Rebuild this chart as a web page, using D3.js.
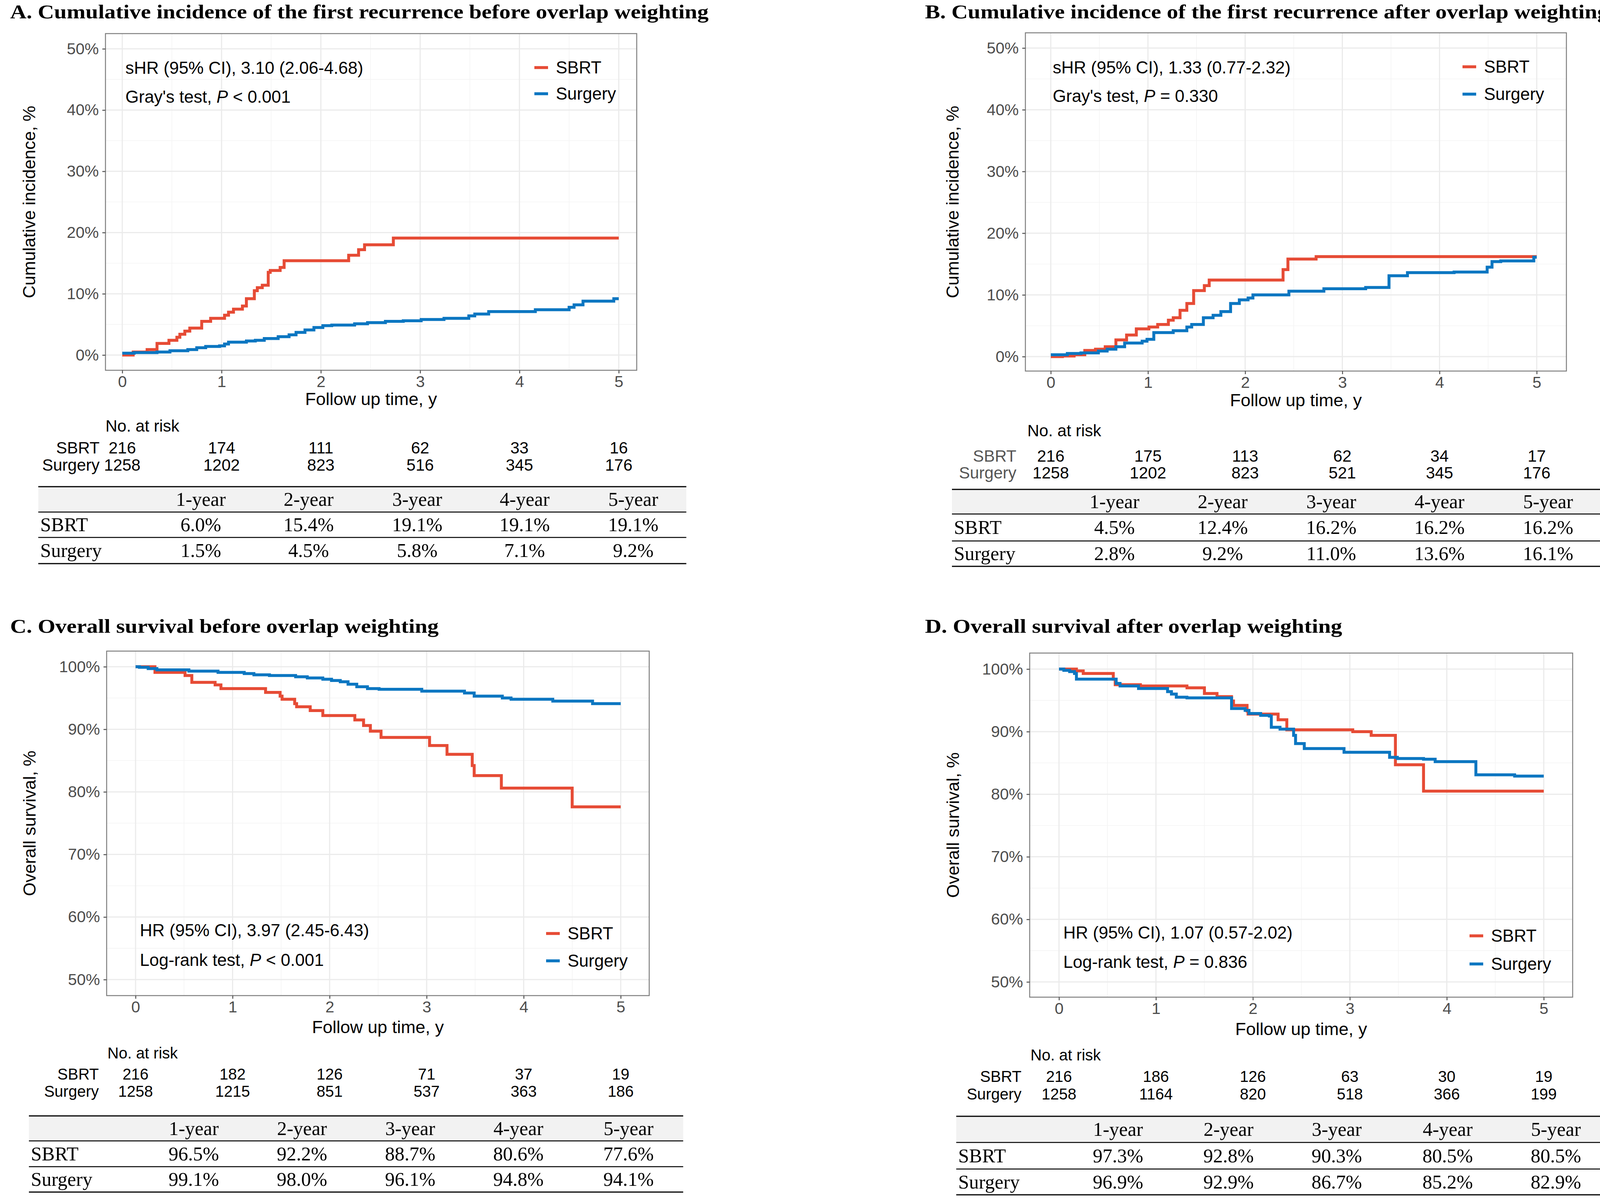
<!DOCTYPE html>
<html>
<head>
<meta charset="utf-8">
<script src="https://cdn.jsdelivr.net/npm/d3@7"></script>
<style>
  body { margin: 0; background: #fff; overflow: hidden; }
  svg { display: block; }
</style>
</head>
<body>
<div id="chart"></div>
<script>
// values: [time in years, percent]
var years = [0, 1, 2, 3, 4, 5];
var groups = ["SBRT", "Surgery"];
var yearCols = ["1-year", "2-year", "3-year", "4-year", "5-year"];

var aSbrt = [[0,0],[0.11,0.5],[0.25,0.9],[0.35,1.9],[0.47,2.4],[0.55,2.9],[0.58,3.4],[0.63,3.9],[0.68,4.4],
  [0.80,5.5],[0.89,6.0],[1.03,6.5],[1.07,7.0],[1.12,7.5],[1.21,8.0],[1.25,9.2],[1.33,10.5],[1.36,11.0],
  [1.41,11.4],[1.47,13.5],[1.49,13.8],[1.59,14.3],[1.63,15.4],[2.28,16.3],[2.38,17.2],[2.44,18.0],[2.73,19.1],[5.0,19.1]];
var aSurgery = [[0,0.3],[0.12,0.4],[0.35,0.5],[0.48,0.7],[0.66,0.9],[0.75,1.2],[0.84,1.4],[0.98,1.5],[1.03,1.8],
  [1.07,2.1],[1.25,2.3],[1.34,2.4],[1.43,2.7],[1.57,3.0],[1.68,3.3],[1.75,3.7],[1.84,4.1],[1.93,4.5],[2.02,4.8],
  [2.11,4.9],[2.34,5.1],[2.47,5.3],[2.65,5.5],[2.83,5.6],[3.01,5.8],[3.24,6.0],[3.49,6.4],[3.55,6.7],[3.69,7.1],
  [4.16,7.4],[4.50,7.8],[4.55,8.2],[4.64,8.8],[4.95,9.2],[5.0,9.2]];

var bSbrt = [[0,0],[0.12,0.1],[0.24,0.3],[0.35,1.0],[0.46,1.2],[0.56,1.6],[0.67,2.7],[0.78,3.5],[0.88,4.5],
  [1.01,4.8],[1.10,5.2],[1.21,5.9],[1.26,6.3],[1.33,7.5],[1.40,8.6],[1.47,10.7],[1.58,11.5],[1.63,12.4],
  [2.39,14.1],[2.44,15.8],[2.73,16.2],[5.0,16.2]];
var bSurgery = [[0,0.3],[0.17,0.5],[0.31,0.6],[0.49,0.9],[0.58,1.2],[0.67,1.6],[0.76,2.2],[0.94,2.5],[0.99,2.8],
  [1.06,3.9],[1.26,4.2],[1.40,4.8],[1.45,5.2],[1.57,6.3],[1.67,6.7],[1.75,7.3],[1.85,8.6],[1.94,9.2],[2.03,9.5],
  [2.08,10.0],[2.45,10.6],[2.81,11.0],[3.24,11.2],[3.48,13.1],[3.67,13.6],[4.15,13.7],[4.49,14.5],[4.54,15.4],
  [4.63,15.5],[4.97,16.1],[5.0,16.1]];

var cSbrt = [[0,100],[0.20,99.1],[0.51,98.6],[0.58,97.5],[0.82,97.1],[0.88,96.5],[1.34,95.9],[1.49,95.3],
  [1.51,94.8],[1.64,94.1],[1.66,93.6],[1.80,93.0],[1.93,92.2],[2.26,91.5],[2.35,90.6],[2.42,89.7],[2.53,88.7],
  [3.03,87.4],[3.21,86.0],[3.47,84.2],[3.49,82.6],[3.77,80.6],[4.50,77.6],[5.0,77.6]];
var cSurgery = [[0,100],[0.04,99.9],[0.13,99.7],[0.22,99.5],[0.55,99.3],[0.85,99.1],[1.12,98.9],[1.22,98.7],
  [1.38,98.6],[1.65,98.4],[1.77,98.2],[1.93,98.0],[2.02,97.8],[2.11,97.6],[2.19,97.2],[2.28,96.8],[2.39,96.5],
  [2.51,96.4],[2.95,96.1],[3.39,95.8],[3.49,95.3],[3.78,95.0],[3.87,94.8],[4.30,94.5],[4.71,94.1],[5.0,94.1]];

var dSbrt = [[0,100],[0.18,99.7],[0.25,99.3],[0.56,98.4],[0.58,97.5],[0.84,97.3],[1.32,97.0],[1.50,96.1],
  [1.63,95.6],[1.78,94.9],[1.80,94.2],[1.94,93.3],[1.95,92.8],[2.26,91.9],[2.35,90.3],[3.03,90.0],[3.22,89.4],
  [3.47,84.7],[3.76,80.5],[5.0,80.5]];
var dSurgery = [[0,100],[0.05,99.8],[0.11,99.6],[0.16,99.3],[0.18,98.4],[0.59,97.7],[0.63,97.3],[0.82,96.9],
  [1.12,96.4],[1.16,96.0],[1.21,95.5],[1.32,95.4],[1.78,93.7],[1.92,93.4],[1.96,92.9],[2.08,92.6],[2.17,92.5],
  [2.19,90.7],[2.28,90.4],[2.42,89.4],[2.44,88.1],[2.53,87.3],[2.94,86.7],[3.41,85.9],[3.49,85.7],[3.76,85.6],
  [3.88,85.2],[4.30,83.1],[4.70,82.9],[5.0,82.9]];

var aRiskSbrt = [216, 174, 111, 62, 33, 16];
var aRiskSurgery = [1258, 1202, 823, 516, 345, 176];
var bRiskSbrt = [216, 175, 113, 62, 34, 17];
var bRiskSurgery = [1258, 1202, 823, 521, 345, 176];
var cRiskSbrt = [216, 182, 126, 71, 37, 19];
var cRiskSurgery = [1258, 1215, 851, 537, 363, 186];
var dRiskSbrt = [216, 186, 126, 63, 30, 19];
var dRiskSurgery = [1258, 1164, 820, 518, 366, 199];

var aRateSbrt = [6.0, 15.4, 19.1, 19.1, 19.1];
var aRateSurgery = [1.5, 4.5, 5.8, 7.1, 9.2];
var bRateSbrt = [4.5, 12.4, 16.2, 16.2, 16.2];
var bRateSurgery = [2.8, 9.2, 11.0, 13.6, 16.1];
var cRateSbrt = [96.5, 92.2, 88.7, 80.6, 77.6];
var cRateSurgery = [99.1, 98.0, 96.1, 94.8, 94.1];
var dRateSbrt = [97.3, 92.8, 90.3, 80.5, 80.5];
var dRateSurgery = [96.9, 92.9, 86.7, 85.2, 82.9];

var ciTicks = [0, 10, 20, 30, 40, 50];
var osTicks = [50, 60, 70, 80, 90, 100];

var colors = ["#E64B35", "#0B76C1"];
var sans = "'Liberation Sans', Arial, Helvetica, sans-serif";
var serif = "'Liberation Serif', 'Times New Roman', serif";

var width = 4135, height = 3080;

var panels = [
  { title: "A. Cumulative incidence of the first recurrence before overlap weighting",
    titleX: 26, titleY: 47, titleW: 1788,
    box: [270, 86, 1630, 948], xPx: [313, 1584], yPx: [909, 125], ticks: ciTicks,
    yTitle: "Cumulative incidence, %", yTitleX: 74, xTitleY: 1037,
    series: [aSbrt, aSurgery],
    stat1: "sHR (95% CI), 3.10 (2.06-4.68)", stat2: ["Gray's test, ", "P", " < 0.001"],
    statX: 321, statY: [174, 248], legX: 1368, legY: [173, 240],
    riskX: 270, riskTitleY: 1105, riskY: [1161, 1205], riskLabelX: 255, riskLabelColor: "#000", riskFont: 42,
    risk: [aRiskSbrt, aRiskSurgery],
    tbl: { x0: 98, x1: 1757, ys: [1246, 1311, 1376, 1443], cols: [514, 790, 1068, 1343, 1621], labelX: 103 },
    rates: [aRateSbrt, aRateSurgery] },
  { title: "B. Cumulative incidence of the first recurrence after overlap weighting",
    titleX: 2368, titleY: 47, titleW: 1750,
    box: [2625, 84, 4010, 950], xPx: [2690, 3934], yPx: [913, 123], ticks: ciTicks,
    yTitle: "Cumulative incidence, %", yTitleX: 2438, xTitleY: 1040,
    series: [bSbrt, bSurgery],
    stat1: "sHR (95% CI), 1.33 (0.77-2.32)", stat2: ["Gray's test, ", "P", " = 0.330"],
    statX: 2695, statY: [173, 246], legX: 3744, legY: [171, 241],
    riskX: 2630, riskTitleY: 1117, riskY: [1182, 1225], riskLabelX: 2602, riskLabelColor: "#555", riskFont: 42,
    risk: [bRiskSbrt, bRiskSurgery],
    tbl: { x0: 2437, x1: 4101, ys: [1253, 1316, 1385, 1450], cols: [2853, 3130, 3408, 3685, 3963], labelX: 2442 },
    rates: [bRateSbrt, bRateSurgery] },
  { title: "C. Overall survival before overlap weighting",
    titleX: 26, titleY: 1620, titleW: 1097,
    box: [273, 1667, 1662, 2549], xPx: [347, 1589], yPx: [2508, 1707], ticks: osTicks,
    yTitle: "Overall survival, %", yTitleX: 75, xTitleY: 2645,
    series: [cSbrt, cSurgery],
    stat1: "HR (95% CI), 3.97 (2.45-6.43)", stat2: ["Log-rank test, ", "P", " < 0.001"],
    statX: 358, statY: [2382, 2458], legX: 1398, legY: [2390, 2460],
    riskX: 275, riskTitleY: 2710, riskY: [2764, 2808], riskLabelX: 253, riskLabelColor: "#000", riskFont: 40,
    risk: [cRiskSbrt, cRiskSurgery],
    tbl: { x0: 74, x1: 1749, ys: [2857, 2921, 2987, 3052], cols: [496, 773, 1050, 1327, 1609], labelX: 79 },
    rates: [cRateSbrt, cRateSurgery] },
  { title: "D. Overall survival after overlap weighting",
    titleX: 2368, titleY: 1620, titleW: 1068,
    box: [2636, 1672, 4026, 2553], xPx: [2711, 3952], yPx: [2514, 1713], ticks: osTicks,
    yTitle: "Overall survival, %", yTitleX: 2439, xTitleY: 2650,
    series: [dSbrt, dSurgery],
    stat1: "HR (95% CI), 1.07 (0.57-2.02)", stat2: ["Log-rank test, ", "P", " = 0.836"],
    statX: 2722, statY: [2388, 2463], legX: 3762, legY: [2396, 2468],
    riskX: 2638, riskTitleY: 2715, riskY: [2770, 2815], riskLabelX: 2615, riskLabelColor: "#000", riskFont: 40,
    risk: [dRiskSbrt, dRiskSurgery],
    tbl: { x0: 2448, x1: 4120, ys: [2858, 2925, 2993, 3059], cols: [2862, 3145, 3422, 3706, 3983], labelX: 2453 },
    rates: [dRateSbrt, dRateSurgery] }
];

var svg = d3.select("#chart").append("svg")
  .attr("width", width)
  .attr("height", height);

svg.append("rect").attr("width", width).attr("height", height).attr("fill", "#fff");

panels.forEach(drawPanel);

function drawPanel(p) {
  var g = svg.append("g");
  var left = p.box[0], top = p.box[1], right = p.box[2], bottom = p.box[3];

  var x = d3.scaleLinear().domain([0, 5]).range(p.xPx);
  var y = d3.scaleLinear().domain([p.ticks[0], p.ticks[p.ticks.length - 1]]).range(p.yPx);

  // title
  g.append("text")
    .attr("x", p.titleX).attr("y", p.titleY)
    .attr("font-family", serif).attr("font-weight", "bold").attr("font-size", 51)
    .attr("textLength", p.titleW).attr("lengthAdjust", "spacingAndGlyphs")
    .text(p.title);

  // panel background + grid
  g.append("rect").attr("x", left).attr("y", top)
    .attr("width", right - left).attr("height", bottom - top).attr("fill", "#fff");

  var step = p.ticks[1] - p.ticks[0];
  var yMinor = p.ticks.slice(1).map(function (d) { return d - step / 2; });
  var xMinor = years.slice(1).map(function (d) { return d - 0.5; });

  g.selectAll(".ymin").data(yMinor).enter().append("line")
    .attr("x1", left).attr("x2", right)
    .attr("y1", function (d) { return y(d); }).attr("y2", function (d) { return y(d); })
    .attr("stroke", "#F4F4F4").attr("stroke-width", 1.6);
  g.selectAll(".xmin").data(xMinor).enter().append("line")
    .attr("y1", top).attr("y2", bottom)
    .attr("x1", function (d) { return x(d); }).attr("x2", function (d) { return x(d); })
    .attr("stroke", "#F4F4F4").attr("stroke-width", 1.6);
  g.selectAll(".ymaj").data(p.ticks).enter().append("line")
    .attr("x1", left).attr("x2", right)
    .attr("y1", function (d) { return y(d); }).attr("y2", function (d) { return y(d); })
    .attr("stroke", "#EBEBEB").attr("stroke-width", 3);
  g.selectAll(".xmaj").data(years).enter().append("line")
    .attr("y1", top).attr("y2", bottom)
    .attr("x1", function (d) { return x(d); }).attr("x2", function (d) { return x(d); })
    .attr("stroke", "#EBEBEB").attr("stroke-width", 3);

  // curves
  var line = d3.line()
    .x(function (d) { return x(d[0]); })
    .y(function (d) { return y(d[1]); })
    .curve(d3.curveStepAfter);

  p.series.forEach(function (s, i) {
    g.append("path").datum(s)
      .attr("d", line)
      .attr("fill", "none")
      .attr("stroke", colors[i])
      .attr("stroke-width", 7.5)
      .attr("stroke-linejoin", "miter");
  });

  // border
  g.append("rect").attr("x", left).attr("y", top)
    .attr("width", right - left).attr("height", bottom - top)
    .attr("fill", "none").attr("stroke", "#7F7F7F").attr("stroke-width", 2.5);

  // axes
  var yAxis = g.append("g")
    .attr("transform", "translate(" + left + ",0)")
    .call(d3.axisLeft(y).tickValues(p.ticks).tickSize(8).tickPadding(9)
      .tickFormat(function (d) { return d + "%"; }));
  var xAxis = g.append("g")
    .attr("transform", "translate(0," + bottom + ")")
    .call(d3.axisBottom(x).tickValues(years).tickSize(8).tickPadding(6)
      .tickFormat(d3.format("d")));

  [yAxis, xAxis].forEach(function (ax) {
    ax.select(".domain").remove();
    ax.selectAll(".tick line").attr("stroke", "#555").attr("stroke-width", 2.5);
    ax.selectAll(".tick text")
      .attr("fill", "#4D4D4D")
      .attr("font-family", sans)
      .attr("font-size", 41);
  });

  // axis titles
  g.append("text")
    .attr("x", (left + right) / 2).attr("y", p.xTitleY)
    .attr("text-anchor", "middle")
    .attr("font-family", sans).attr("font-size", 45)
    .text("Follow up time, y");
  g.append("text")
    .attr("transform", "translate(" + p.yTitleX + "," + ((top + bottom) / 2) + ") rotate(-90)")
    .attr("text-anchor", "middle").attr("dy", "0.35em")
    .attr("font-family", sans).attr("font-size", 45)
    .text(p.yTitle);

  // statistics
  g.append("text")
    .attr("x", p.statX).attr("y", p.statY[0]).attr("dy", "0.35em")
    .attr("font-family", sans).attr("font-size", 44)
    .text(p.stat1);
  var t2 = g.append("text")
    .attr("x", p.statX).attr("y", p.statY[1]).attr("dy", "0.35em")
    .attr("font-family", sans).attr("font-size", 44);
  p.stat2.forEach(function (part, i) {
    t2.append("tspan").attr("font-style", i === 1 ? "italic" : "normal").text(part);
  });

  // legend
  groups.forEach(function (name, i) {
    g.append("line")
      .attr("x1", p.legX).attr("x2", p.legX + 35)
      .attr("y1", p.legY[i]).attr("y2", p.legY[i])
      .attr("stroke", colors[i]).attr("stroke-width", 7.5);
    g.append("text")
      .attr("x", p.legX + 55).attr("y", p.legY[i]).attr("dy", "0.35em")
      .attr("font-family", sans).attr("font-size", 44)
      .text(name);
  });

  // number at risk
  g.append("text")
    .attr("x", p.riskX).attr("y", p.riskTitleY)
    .attr("font-family", sans).attr("font-size", p.riskFont)
    .text("No. at risk");
  groups.forEach(function (name, i) {
    g.append("text")
      .attr("x", p.riskLabelX).attr("y", p.riskY[i])
      .attr("text-anchor", "end").attr("fill", p.riskLabelColor)
      .attr("font-family", sans).attr("font-size", p.riskFont)
      .text(name);
    g.selectAll(".risk" + i).data(p.risk[i]).enter().append("text")
      .attr("x", function (d, j) { return x(years[j]); })
      .attr("y", p.riskY[i])
      .attr("text-anchor", "middle")
      .attr("font-family", sans).attr("font-size", p.riskFont)
      .text(function (d) { return d; });
  });

  // yearly rates table
  var tb = p.tbl;
  g.append("rect")
    .attr("x", tb.x0).attr("y", tb.ys[0])
    .attr("width", tb.x1 - tb.x0).attr("height", tb.ys[1] - tb.ys[0])
    .attr("fill", "#F2F2F2");
  g.selectAll(".rule").data(tb.ys).enter().append("line")
    .attr("x1", tb.x0).attr("x2", tb.x1)
    .attr("y1", function (d) { return d; }).attr("y2", function (d) { return d; })
    .attr("stroke", "#000").attr("stroke-width", function (d, i) { return i === 0 || i === 3 ? 3 : 2.5; });

  var mid = function (i) { return (tb.ys[i] + tb.ys[i + 1]) / 2; };
  g.selectAll(".hdr").data(yearCols).enter().append("text")
    .attr("x", function (d, j) { return tb.cols[j]; })
    .attr("y", mid(0)).attr("dy", "0.33em")
    .attr("text-anchor", "middle")
    .attr("font-family", serif).attr("font-size", 50)
    .text(function (d) { return d; });
  groups.forEach(function (name, i) {
    g.append("text")
      .attr("x", tb.labelX).attr("y", mid(i + 1)).attr("dy", "0.33em")
      .attr("font-family", serif).attr("font-size", 50)
      .text(name);
    g.selectAll(".rate" + i).data(p.rates[i]).enter().append("text")
      .attr("x", function (d, j) { return tb.cols[j]; })
      .attr("y", mid(i + 1)).attr("dy", "0.33em")
      .attr("text-anchor", "middle")
      .attr("font-family", serif).attr("font-size", 50)
      .text(function (d) { return d.toFixed(1) + "%"; });
  });
}
</script>
</body>
</html>
